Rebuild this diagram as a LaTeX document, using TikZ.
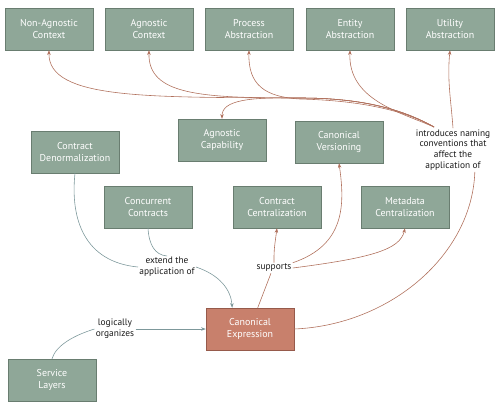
\documentclass[tikz,border=0pt]{standalone}
\usepackage{fontspec}
\setmainfont{PT Sans}
\usepackage{tikz}
\usetikzlibrary{arrows.meta}
\definecolor{boxgreen}{RGB}{143,167,152}
\definecolor{boxedge}{RGB}{105,125,112}
\definecolor{boxred}{RGB}{200,128,108}
\definecolor{rededge}{RGB}{150,90,75}
\definecolor{linered}{RGB}{176,112,92}
\definecolor{lineblue}{RGB}{125,152,155}

\begin{document}
\begin{tikzpicture}[x=0.03cm, y=-0.03cm, >={Stealth[length=4pt,width=3pt]},
		box_style/.style={rectangle,draw=boxedge,fill=boxgreen,text=white,minimum width=2.64cm,minimum height=1.26cm,inner sep=0pt,align=center,font=\fontsize{8.5}{10}\selectfont},
		key_style/.style={box_style,draw=rededge,fill=boxred},
		label_style/.style={align=center,text=black!90,inner sep=1pt,font=\fontsize{8}{9.2}\selectfont},
		red_edge/.style={draw=linered,line width=0.5pt},
		blue_edge/.style={draw=lineblue,line width=0.5pt}]

		\useasboundingbox (0,0) rectangle (500,409);

		\node[box_style] (n0) at (49,29)  {Non-Agnostic\\Context};
		\node[box_style] (n1) at (149,29)  {Agnostic\\Context};
		\node[box_style] (n2) at (249,29)  {Process\\Abstraction};
		\node[box_style] (n3) at (350,29)  {Entity\\Abstraction};
		\node[box_style] (n4) at (450,29)  {Utility\\Abstraction};
		\node[box_style] (n5) at (222,140)  {Agnostic\\Capability};
		\node[box_style] (n6) at (339,142)  {Canonical\\Versioning};
		\node[box_style] (n7) at (75,152)  {Contract\\Denormalization};
		\node[box_style] (n8) at (148,207)  {Concurrent\\Contracts};
		\node[box_style] (n9) at (277,207)  {Contract\\Centralization};
		\node[box_style] (n10) at (405,207)  {Metadata\\Centralization};
		\node[key_style] (n11) at (250,329)  {Canonical\\Expression};
		\node[box_style] (n12) at (52,380)  {Service\\Layers};

		\node[label_style] (l0) at (453,150)  {introduces naming\\conventions that\\affect the\\application of};
		\node[label_style] (l1) at (167,267)  {extend the\\application of};
		\node[label_style] (l2) at (274,268)  {supports};
		\node[label_style] (l3) at (115,329)  {logically\\organizes};
		\coordinate (h0) at (434,127);

		% naming conventions
		\draw[red_edge]  (n11.east) .. controls (390,325) and (472,255) .. (l0.-45);
		\draw[red_edge,->]  (l0.north) .. controls (451,100) and (447,80) .. (n4.south);
		\draw[red_edge,->]  (h0) .. controls (400,112) and (348,100) .. (n3.south);
		\draw[red_edge,->]  (h0) .. controls (395,105) and (340,100) .. (300,99) .. controls (265,97) and (248,85) .. (n2.south);
		\draw[red_edge,->]  (h0) .. controls (395,105) and (350,98) .. (300,98) .. controls (200,98) and (148,95) .. (n1.south);
		\draw[red_edge,->]  (h0) .. controls (395,105) and (350,98) .. (300,98) .. controls (150,97) and (48,100) .. (n0.south);
		\draw[red_edge,->]  (h0) .. controls (395,105) and (350,98) .. (300,98) .. controls (250,97) and (222,100) .. (n5.north);

		% supports
		\draw[red_edge]  (n11.70) -- (l2.240);
		\draw[red_edge,->]  (l2.north) .. controls (274,250) .. (n9.south);
		\draw[red_edge,->]  (l2.north east) .. controls (345,245) and (345,205) .. (n6.south);
		\draw[red_edge,->]  (l2.east) .. controls (370,258) and (400,250) .. (n10.south);

		% extend the application of
		\draw[blue_edge]  (n7.south) .. controls (70,220) and (85,262) .. (l1.west);
		\draw[blue_edge]  (n8.south) .. controls (149,245) and (155,255) .. (l1.north);
		\draw[blue_edge,->]  (l1.east) .. controls (220,275) and (231,290) .. (n11.130);

		% logically organizes
		\draw[blue_edge]  (n12.north) .. controls (56,345) and (75,335) .. (l3.west);
		\draw[blue_edge,->]  (l3.east) -- (n11.west);

\end{tikzpicture}
\end{document}
